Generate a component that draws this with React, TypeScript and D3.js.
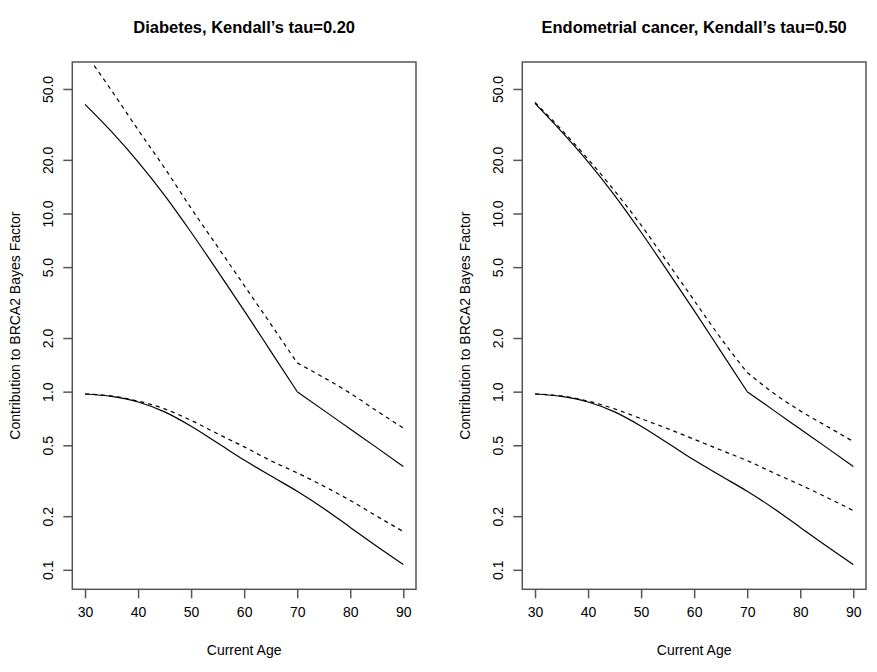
import React, { useEffect, useRef } from "react"
import * as d3 from "d3"

// ages on the x axis
const ages = [30, 35, 40, 45, 50, 55, 60, 65, 70, 75, 80, 85, 90]

// Diabetes panel
const diabUpperSolid = [41, 28.8, 19.5, 12.65, 7.85, 4.75, 2.85, 1.69, 1.0, 0.785, 0.617, 0.485, 0.38]
const diabUpperDashed = [80, 49, 29.5, 18, 10.7, 6.5, 3.95, 2.4, 1.45, 1.2, 0.98, 0.78, 0.625]
const diabLowerSolid = [0.97, 0.94, 0.875, 0.77, 0.64, 0.515, 0.413, 0.337, 0.276, 0.221, 0.173, 0.1355, 0.107]
const diabLowerDashed = [0.97, 0.945, 0.885, 0.8, 0.69, 0.58, 0.49, 0.41, 0.35, 0.295, 0.245, 0.2, 0.164]

// Endometrial cancer panel
const endoUpperSolid = [41.5, 28.8, 19.5, 12.65, 7.85, 4.75, 2.85, 1.69, 1.0, 0.785, 0.617, 0.485, 0.38]
const endoUpperDashed = [42, 29.5, 20.2, 13.4, 8.6, 5.3, 3.25, 2.0, 1.28, 0.98, 0.78, 0.64, 0.525]
const endoLowerSolid = [0.97, 0.94, 0.875, 0.77, 0.64, 0.515, 0.413, 0.337, 0.276, 0.221, 0.173, 0.1355, 0.107]
const endoLowerDashed = [0.97, 0.945, 0.885, 0.8, 0.705, 0.62, 0.54, 0.47, 0.41, 0.35, 0.3, 0.255, 0.215]

const xTicks = [30, 40, 50, 60, 70, 80, 90]
const yTicks = [0.1, 0.2, 0.5, 1.0, 2.0, 5.0, 10.0, 20.0, 50.0]
const kinkAge = 70

const panels = [
	{
		title: "Diabetes, Kendall\u2019s tau=0.20",
		left: 72.3,
		right: 416,
		series: [
			{ values: diabUpperSolid, dashed: false, kink: true },
			{ values: diabUpperDashed, dashed: true, kink: true },
			{ values: diabLowerSolid, dashed: false, kink: false },
			{ values: diabLowerDashed, dashed: true, kink: false },
		],
	},
	{
		title: "Endometrial cancer, Kendall\u2019s tau=0.50",
		left: 522.3,
		right: 866,
		series: [
			{ values: endoUpperSolid, dashed: false, kink: true },
			{ values: endoUpperDashed, dashed: true, kink: true },
			{ values: endoLowerSolid, dashed: false, kink: false },
			{ values: endoLowerDashed, dashed: true, kink: false },
		],
	},
]

const App: React.FC = () => {
	const ref = useRef<SVGSVGElement>(null)
	const width = 877
	const height = 672
	const top = 62
	const bottom = 589.3
	const font = "'Liberation Sans', Arial, Helvetica, sans-serif"

	useEffect(() => {
		const svg = d3.select(ref.current)
		svg.selectAll("*").remove()

		// y range: R style 4% extension around ylim
		const y = d3.scaleLog().domain([0.1, 55]).range([569.8, 81.6])

		panels.forEach((p, pi) => {
			const pad = ((p.right - p.left) / 1.08) * 0.04
			const x = d3
				.scaleLinear()
				.domain([30, 90])
				.range([p.left + pad, p.right - pad])
			const g = svg.append("g")

			g.append("clipPath")
				.attr("id", "clip" + pi)
				.append("rect")
				.attr("x", p.left)
				.attr("y", top)
				.attr("width", p.right - p.left)
				.attr("height", bottom - top)

			const line = d3
				.line<[number, number]>()
				.x((d) => x(d[0]))
				.y((d) => y(d[1]))
				.curve(d3.curveMonotoneX)

			// split the upper curves at the kink so it stays sharp
			const segs: { pts: [number, number][]; dashed: boolean }[] = []
			p.series.forEach((s) => {
				const pts = s.values.map((v, i) => [ages[i], v] as [number, number])
				if (s.kink) {
					segs.push({ pts: pts.filter((d) => d[0] <= kinkAge), dashed: s.dashed })
					segs.push({ pts: pts.filter((d) => d[0] >= kinkAge), dashed: s.dashed })
				} else {
					segs.push({ pts, dashed: s.dashed })
				}
			})

			g.append("g")
				.attr("clip-path", `url(#clip${pi})`)
				.selectAll("path")
				.data(segs)
				.join("path")
				.attr("d", (d) => line(d.pts))
				.attr("fill", "none")
				.attr("stroke", "#000")
				.attr("stroke-width", 1.2)
				.attr("stroke-dasharray", (d) => (d.dashed ? "4,4" : null))

			// box
			g.append("rect")
				.attr("x", p.left)
				.attr("y", top)
				.attr("width", p.right - p.left)
				.attr("height", bottom - top)
				.attr("fill", "none")
				.attr("stroke", "#555")
				.attr("stroke-width", 1.5)

			// x axis
			const xAxis = d3
				.axisBottom(x)
				.tickValues(xTicks)
				.tickSize(9)
				.tickPadding(9)
				.tickFormat(d3.format("d"))
			const gx = g
				.append("g")
				.attr("transform", `translate(0,${bottom})`)
				.call(xAxis)
			gx.select(".domain").remove()
			gx.selectAll(".tick line").attr("stroke", "#555").attr("stroke-width", 1.5)
			gx.selectAll(".tick text")
				.attr("font-family", font)
				.attr("font-size", 14)
				.attr("fill", "#000")

			// y axis
			const yAxis = d3
				.axisLeft(y)
				.tickValues(yTicks)
				.tickSize(9)
				.tickFormat(d3.format(".1f"))
			const gy = g
				.append("g")
				.attr("transform", `translate(${p.left},0)`)
				.call(yAxis)
			gy.select(".domain").remove()
			gy.selectAll(".tick line").attr("stroke", "#555").attr("stroke-width", 1.5)
			gy.selectAll(".tick text")
				.attr("font-family", font)
				.attr("font-size", 14)
				.attr("fill", "#000")
				.attr("x", null)
				.attr("dy", null)
				.attr("text-anchor", "middle")
				.attr("transform", "translate(-19,0) rotate(-90)")

			// title
			g.append("text")
				.attr("x", (p.left + p.right) / 2)
				.attr("y", 32.5)
				.attr("text-anchor", "middle")
				.attr("font-family", font)
				.attr("font-weight", "bold")
				.attr("font-size", 16.5)
				.text(p.title)

			// axis labels
			g.append("text")
				.attr("x", (p.left + p.right) / 2)
				.attr("y", 655)
				.attr("text-anchor", "middle")
				.attr("font-family", font)
				.attr("font-size", 14)
				.text("Current Age")

			g.append("text")
				.attr("transform", `translate(${p.left - 52},${(top + bottom) / 2}) rotate(-90)`)
				.attr("text-anchor", "middle")
				.attr("font-family", font)
				.attr("font-size", 14)
				.text("Contribution to BRCA2 Bayes Factor")
		})
	}, [])

	return (
		<svg
			ref={ref}
			width={width}
			height={height}
			style={{ position: "absolute", left: 0, top: 0, background: "#fff" }}
		/>
	)
}

export default App
